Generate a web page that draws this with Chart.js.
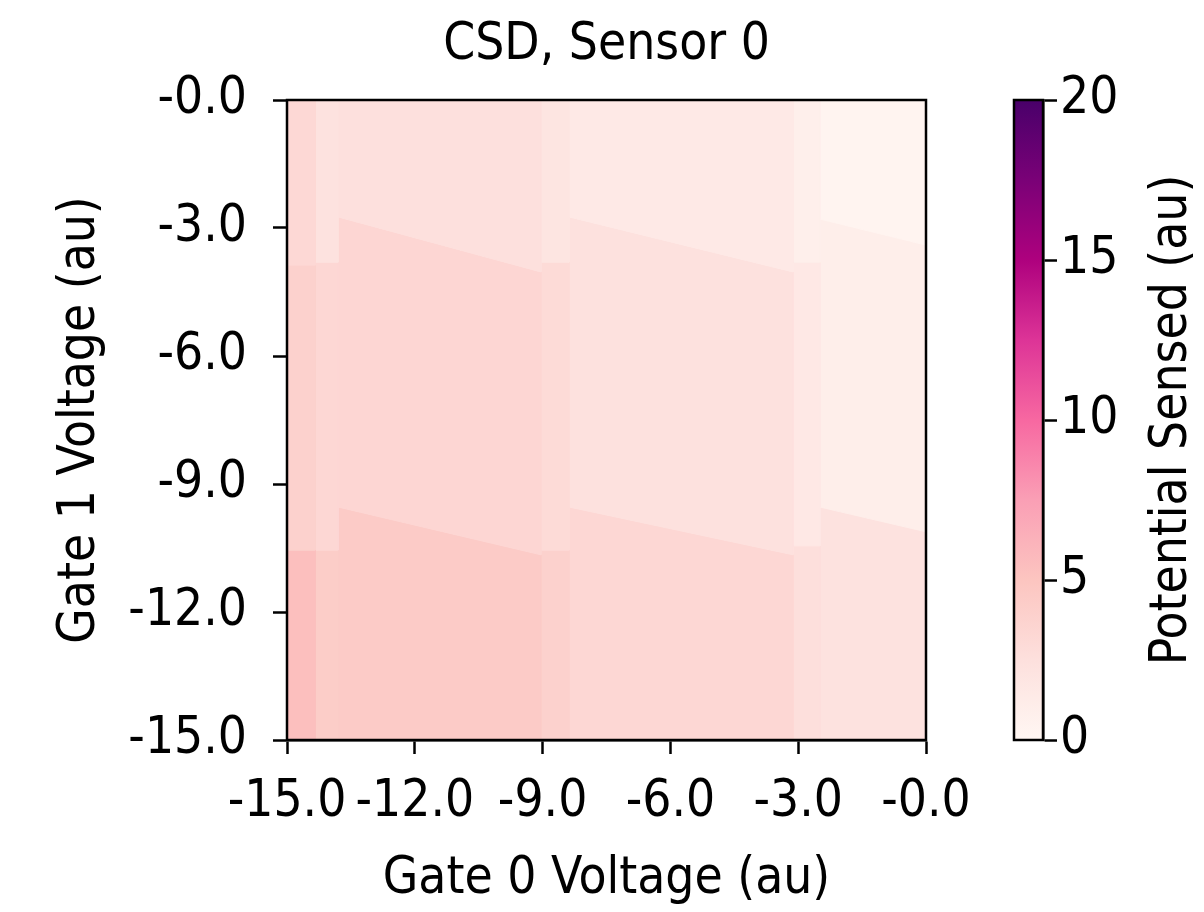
<!DOCTYPE html>
<html>
<head>
<meta charset="utf-8">
<script src="https://cdn.jsdelivr.net/npm/chart.js@4.4.1/dist/chart.umd.min.js"></script>
<style>
html,body{margin:0;padding:0;background:#fff;width:1204px;height:912px;overflow:hidden}
#main{position:absolute;left:0;top:0;width:1204px;height:912px}
#cbar{position:absolute;left:960px;top:0;width:244px;height:912px}
</style>
</head>
<body>
<div id="main"><canvas id="c1"></canvas></div>
<div id="cbar"><canvas id="c2"></canvas></div>
<script>
// ---------- data ----------
const chartTitle = 'CSD, Sensor 0';
const xTitle = 'Gate 0 Voltage (au)';
const yTitle = 'Gate 1 Voltage (au)';
const cbarTitle = 'Potential Sensed (au)';

const gate0Ticks = [-15, -12, -9, -6, -3, 0];
const gate0TickLabels = ['-15.0', '-12.0', '-9.0', '-6.0', '-3.0', '-0.0'];
const gate1Ticks = [-15, -12, -9, -6, -3, 0];
const gate1TickLabels = ['-15.0', '-12.0', '-9.0', '-6.0', '-3.0', '-0.0'];
const colorbarTicks = [0, 5, 10, 15, 20];
const colorbarTickLabels = ['0', '5', '10', '15', '20'];

// Gate 0 voltages where the charge-state columns change
const columnEdges = [-15, -14.34, -13.80, -9.04, -8.38, -3.12, -2.49, 0];
// Gate 1 voltage of the upper / lower transition at left and right edge of each column
const upperLeft  = [-3.87, -3.80, -2.74, -3.80, -2.74, -3.80, -2.79];
const upperRight = [-3.87, -3.80, -4.03, -3.80, -4.03, -3.80, -3.40];
const lowerLeft  = [-10.55, -10.55, -9.54, -10.55, -9.54, -10.45, -9.54];
const lowerRight = [-10.55, -10.55, -10.66, -10.55, -10.66, -10.45, -10.12];
// potential sensed in each column: above upper transition, between, below lower transition
const topValues    = [3.2, 2.3, 2.5, 2.0, 1.5, 0.9, 0.3];
const middleValues = [3.9, 3.3, 3.4, 3.0, 2.4, 1.6, 1.0];
const bottomValues = [5.4, 4.3, 4.4, 3.9, 3.3, 2.6, 2.3];

const vMin = 0, vMax = 20;
const axisMin = -15, axisMax = 0;

// RdPu colormap
const rdpu = ['#fff7f3','#fde0dd','#fcc5c0','#fa9fb5','#f768a1','#dd3497','#ae017e','#7a0177','#49006a'];

// ---------- font choice ----------
function fontAvailable(name) {
  const c = document.createElement('canvas').getContext('2d');
  const s = 'CSD, Sensor 0 Gate Voltage';
  c.font = '40px monospace';
  const w0 = c.measureText(s).width;
  c.font = "40px '" + name + "', monospace";
  return Math.abs(c.measureText(s).width - w0) > 0.5;
}
const condensed = fontAvailable('DejaVu Sans Condensed');
const FONT = condensed ? "'DejaVu Sans Condensed', 'DejaVu Sans', sans-serif" : "'DejaVu Sans', sans-serif";
const FS = condensed ? 51 : 46;

function hex2rgb(h){return [parseInt(h.slice(1,3),16),parseInt(h.slice(3,5),16),parseInt(h.slice(5,7),16)];}
function cmap(v){
  let t = (v - vMin) / (vMax - vMin);
  t = Math.max(0, Math.min(1, t));
  const p = t * (rdpu.length - 1);
  const i = Math.min(Math.floor(p), rdpu.length - 2);
  const f = p - i;
  const a = hex2rgb(rdpu[i]), b = hex2rgb(rdpu[i+1]);
  const c = a.map((x,k)=>Math.round(x + (b[k]-x)*f));
  return 'rgb(' + c.join(',') + ')';
}

const datasets = [];
for (let i = 0; i < columnEdges.length - 1; i++) {
  const xL = columnEdges[i], xR = columnEdges[i+1];
  const cells = [
    {pts: [[xL, axisMax],[xR, axisMax],[xR, upperRight[i]],[xL, upperLeft[i]]], v: topValues[i]},
    {pts: [[xL, upperLeft[i]],[xR, upperRight[i]],[xR, lowerRight[i]],[xL, lowerLeft[i]]], v: middleValues[i]},
    {pts: [[xL, lowerLeft[i]],[xR, lowerRight[i]],[xR, axisMin],[xL, axisMin]], v: bottomValues[i]}
  ];
  cells.forEach(c => {
    const col = cmap(c.v);
    const data = c.pts.map(p => ({x: p[0], y: p[1]}));
    data.push({x: c.pts[0][0], y: c.pts[0][1]});
    datasets.push({
      data, showLine: true, fill: 'shape', backgroundColor: col, borderColor: col,
      borderWidth: 1, pointRadius: 0, pointHoverRadius: 0, tension: 0
    });
  });
}

const frame = {
  id: 'frame',
  afterDraw(chart) {
    const {ctx, chartArea: a} = chart;
    ctx.save();
    ctx.strokeStyle = '#000';
    ctx.lineWidth = 2.5;
    ctx.strokeRect(a.left, a.top, a.right - a.left, a.bottom - a.top);
    ctx.restore();
  }
};

const titlePlugin = {
  id: 'plotTitle',
  afterDraw(chart) {
    const {ctx, chartArea: a} = chart;
    ctx.save();
    ctx.fillStyle = '#000';
    ctx.font = FS + 'px ' + FONT;
    ctx.textAlign = 'center';
    ctx.textBaseline = 'middle';
    ctx.fillText(chartTitle, (a.left + a.right) / 2, 46);
    ctx.restore();
  }
};

const tickFont = {family: FONT, size: FS};

new Chart(document.getElementById('c1'), {
  type: 'scatter',
  data: {datasets},
  options: {
    animation: false, responsive: true, maintainAspectRatio: false,
    layout: {padding: {left: 0, right: 278, top: 100, bottom: 0}},
    plugins: {legend: {display: false}, tooltip: {enabled: false}, title: {display: false}},
    scales: {
      x: {
        type: 'linear', min: axisMin, max: axisMax, z: 1,
        afterBuildTicks: s => { s.ticks = gate0Ticks.map(v => ({value: v})); },
        afterFit: s => { s.height = 172; },
        ticks: {callback: (v, i) => gate0TickLabels[i], font: tickFont, color: '#000', padding: 18, maxRotation: 0, autoSkip: false},
        grid: {drawOnChartArea: false, drawTicks: true, tickLength: 14, tickColor: '#000', tickWidth: 2.5},
        border: {display: true, color: '#000', width: 2.5},
        title: {display: true, text: xTitle, color: '#000', font: {family: FONT, size: FS, lineHeight: 1.2}, padding: {top: 0, bottom: 2}}
      },
      y: {
        type: 'linear', min: axisMin, max: axisMax, z: 1,
        afterBuildTicks: s => { s.ticks = gate1Ticks.map(v => ({value: v})); },
        afterFit: s => { s.width = 287; },
        ticks: {callback: (v, i) => gate1TickLabels[i], font: tickFont, color: '#000', padding: 26, autoSkip: false},
        grid: {drawOnChartArea: false, drawTicks: true, tickLength: 14, tickColor: '#000', tickWidth: 2.5},
        border: {display: true, color: '#000', width: 2.5},
        title: {display: true, text: yTitle, color: '#000', font: {family: FONT, size: FS, lineHeight: 1.2}, padding: {top: 50, bottom: 0}}
      }
    }
  },
  plugins: [frame, titlePlugin]
});

const cbarTitlePlugin = {
  id: 'cbarTitle',
  afterDraw(chart) {
    const {ctx, chartArea: a} = chart;
    ctx.save();
    ctx.fillStyle = '#000';
    ctx.font = FS + 'px ' + FONT;
    ctx.textAlign = 'center';
    ctx.textBaseline = 'middle';
    ctx.translate(213, (a.top + a.bottom) / 2);
    ctx.rotate(-Math.PI / 2);
    ctx.fillText(cbarTitle, 0, 0);
    ctx.restore();
  }
};

new Chart(document.getElementById('c2'), {
  type: 'bar',
  data: {
    labels: ['cbar'],
    datasets: [{
      data: [[vMin, vMax]],
      barPercentage: 1, categoryPercentage: 1, borderWidth: 0,
      backgroundColor: (c) => {
        const a = c.chart.chartArea;
        if (!a) return rdpu[0];
        const g = c.chart.ctx.createLinearGradient(0, a.bottom, 0, a.top);
        rdpu.forEach((col, i) => g.addColorStop(i / (rdpu.length - 1), col));
        return g;
      }
    }]
  },
  options: {
    animation: false, responsive: true, maintainAspectRatio: false,
    layout: {padding: {left: 54, right: 0, top: 100, bottom: 172}},
    plugins: {legend: {display: false}, tooltip: {enabled: false}},
    scales: {
      x: {display: false},
      y: {
        position: 'right', min: vMin, max: vMax,
        afterBuildTicks: s => { s.ticks = colorbarTicks.map(v => ({value: v})); },
        afterFit: s => { s.width = 161; },
        ticks: {callback: (v, i) => colorbarTickLabels[i], font: tickFont, color: '#000', padding: 3},
        grid: {drawOnChartArea: false, drawTicks: true, tickLength: 14, tickColor: '#000', tickWidth: 2.5},
        border: {display: true, color: '#000', width: 2.5}
      }
    }
  },
  plugins: [frame, cbarTitlePlugin]
});
</script>
</body>
</html>
